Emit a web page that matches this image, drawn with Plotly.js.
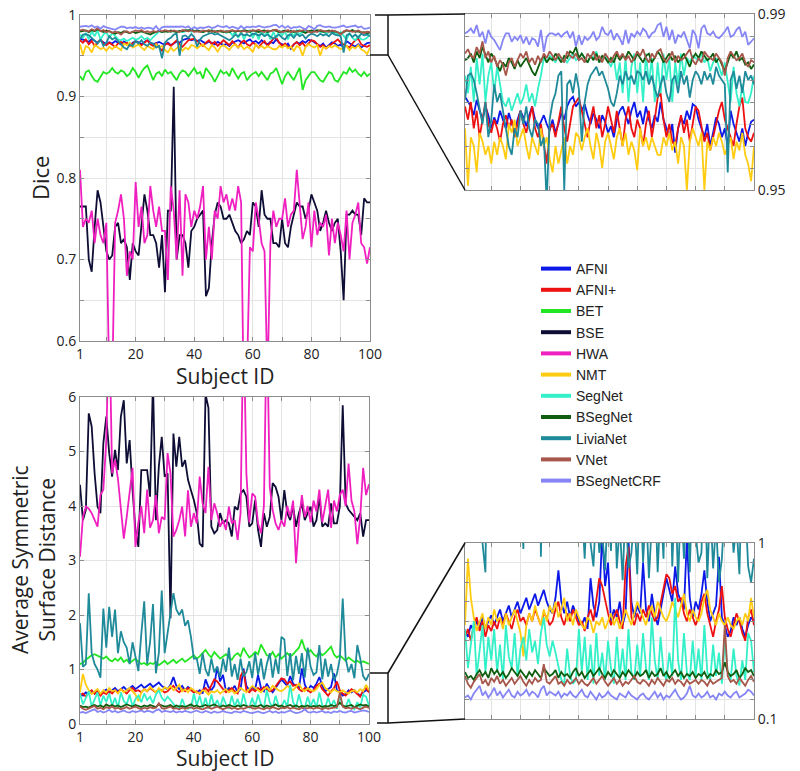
<!DOCTYPE html>
<html>
<head>
<meta charset="utf-8">
<script src="https://cdn.plot.ly/plotly-3.0.1.min.js"></script>
<style>html,body{margin:0;padding:0;background:#fff;}#chart{width:800px;height:771px;}</style>
</head>
<body>
<div id="chart"></div>
<script>
// ---------- DATA ----------
const subjects = [1,2,3,4,5,6,7,8,9,10,11,12,13,14,15,16,17,18,19,20,21,22,23,24,25,26,27,28,29,30,31,32,33,34,35,36,37,38,39,40,41,42,43,44,45,46,47,48,49,50,51,52,53,54,55,56,57,58,59,60,61,62,63,64,65,66,67,68,69,70,71,72,73,74,75,76,77,78,79,80,81,82,83,84,85,86,87,88,89,90,91,92,93,94,95,96,97,98,99,100];

const methods = ["AFNI","AFNI+","BET","BSE","HWA","NMT","SegNet","BSegNet","LiviaNet","VNet","BSegNetCRF"];

const xTickVals = [1,10,20,30,40,50,60,70,80,90,100];
const xTickText = ["1","","20","","40","","60","","80","","100"];
const diceTickVals = [0.6,0.65,0.7,0.75,0.8,0.85,0.9,0.95,1];
const diceTickText = ["0.6","","0.7","","0.8","","0.9","","1"];
const diceZoomTickVals = [0.95,0.955,0.96,0.965,0.97,0.975,0.98,0.985,0.99];
const diceZoomTickText = ["0.95","","","","","","","","0.99"];
const assdTickVals = [0,1,2,3,4,5,6];
const assdTickText = ["0","1","2","3","4","5","6"];
const assdZoomTickVals = [0.1,0.2,0.3,0.4,0.5,0.6,0.7,0.8,0.9,1];
const assdZoomTickText = ["0.1","","","","","","","","","1"];

// Dice per subject
const diceAFNI = [0.9712,0.9700,0.9690,0.9670,0.9705,0.9680,0.9660,0.9690,0.9670,0.9640,
0.9665,0.9650,0.9680,0.9660,0.9640,0.9675,0.9650,0.9630,0.9660,0.9680,
0.9665,0.9645,0.9670,0.9690,0.9660,0.9640,0.9655,0.9670,0.9650,0.9635,
0.9660,0.9630,0.9650,0.9675,0.9660,0.9690,0.9705,0.9712,0.9690,0.9700,
0.9680,0.9695,0.9670,0.9650,0.9675,0.9660,0.9640,0.9670,0.9655,0.9630,
0.9645,0.9620,0.9660,0.9680,0.9690,0.9670,0.9650,0.9680,0.9700,0.9665,
0.9680,0.9650,0.9690,0.9660,0.9640,0.9670,0.9655,0.9700,0.9660,0.9640,
0.9620,0.9650,0.9585,0.9640,0.9665,0.9650,0.9680,0.9660,0.9695,0.9690,
0.9660,0.9640,0.9620,0.9650,0.9600,0.9630,0.9665,0.9650,0.9620,0.9640,
0.9600,0.9680,0.9650,0.9630,0.9610,0.9640,0.9600,0.9630,0.9655,0.9660];
const diceAFNIplus = [0.9690,0.9660,0.9700,0.9640,0.9680,0.9620,0.9660,0.9700,0.9650,0.9630,
0.9660,0.9640,0.9610,0.9650,0.9670,0.9640,0.9660,0.9620,0.9650,0.9680,
0.9650,0.9630,0.9660,0.9690,0.9640,0.9620,0.9650,0.9600,0.9560,0.9640,
0.9650,0.9620,0.9660,0.9690,0.9640,0.9610,0.9650,0.9690,0.9700,0.9710,
0.9680,0.9650,0.9620,0.9660,0.9690,0.9640,0.9670,0.9620,0.9650,0.9690,
0.9660,0.9630,0.9680,0.9640,0.9600,0.9660,0.9690,0.9640,0.9620,0.9660,
0.9640,0.9600,0.9650,0.9680,0.9620,0.9660,0.9710,0.9720,0.9660,0.9620,
0.9650,0.9610,0.9600,0.9640,0.9670,0.9630,0.9660,0.9610,0.9650,0.9690,
0.9680,0.9640,0.9610,0.9630,0.9590,0.9620,0.9650,0.9680,0.9700,0.9660,
0.9640,0.9620,0.9600,0.9650,0.9690,0.9710,0.9640,0.9620,0.9610,0.9630];
const diceBET = [0.925,0.920,0.930,0.932,0.925,0.920,0.918,0.925,0.930,0.928,
0.930,0.935,0.930,0.928,0.932,0.930,0.925,0.928,0.935,0.930,
0.923,0.930,0.935,0.938,0.930,0.920,0.928,0.930,0.925,0.933,
0.928,0.930,0.925,0.920,0.928,0.932,0.930,0.925,0.930,0.935,
0.928,0.930,0.922,0.935,0.930,0.925,0.918,0.925,0.932,0.928,
0.930,0.925,0.935,0.928,0.922,0.928,0.930,0.920,0.925,0.928,
0.930,0.925,0.930,0.925,0.920,0.928,0.930,0.935,0.925,0.915,
0.925,0.930,0.925,0.920,0.928,0.935,0.908,0.920,0.925,0.930,
0.930,0.925,0.920,0.918,0.925,0.930,0.928,0.920,0.918,0.925,
0.930,0.928,0.935,0.930,0.933,0.928,0.925,0.930,0.925,0.928];
const diceBSE = [0.765,0.765,0.765,0.700,0.685,0.740,0.785,0.770,0.740,0.710,
0.700,0.705,0.740,0.745,0.720,0.725,0.715,0.675,0.720,0.710,
0.705,0.740,0.780,0.760,0.730,0.730,0.720,0.690,0.730,0.660,
0.760,0.760,0.912,0.700,0.730,0.730,0.720,0.690,0.735,0.740,
0.750,0.755,0.760,0.655,0.665,0.720,0.755,0.770,0.765,0.750,
0.750,0.755,0.745,0.735,0.730,0.720,0.725,0.735,0.730,0.770,
0.765,0.740,0.785,0.755,0.750,0.750,0.720,0.720,0.715,0.750,
0.720,0.715,0.740,0.755,0.770,0.765,0.765,0.750,0.760,0.780,
0.770,0.760,0.735,0.745,0.760,0.745,0.735,0.745,0.750,0.710,
0.650,0.755,0.755,0.760,0.755,0.755,0.730,0.775,0.770,0.770];
const diceHWA = [0.810,0.740,0.750,0.745,0.760,0.720,0.750,0.730,0.720,0.745,
0.550,0.550,0.745,0.760,0.780,0.750,0.680,0.710,0.700,0.795,
0.740,0.765,0.720,0.730,0.790,0.760,0.740,0.765,0.735,0.735,
0.675,0.790,0.760,0.700,0.785,0.680,0.780,0.770,0.740,0.760,
0.750,0.765,0.790,0.700,0.740,0.700,0.760,0.750,0.790,0.770,
0.780,0.760,0.775,0.760,0.790,0.770,0.500,0.560,0.715,0.710,
0.770,0.750,0.720,0.710,0.550,0.720,0.760,0.740,0.750,0.750,
0.775,0.740,0.755,0.760,0.810,0.765,0.725,0.740,0.770,0.715,
0.760,0.730,0.745,0.740,0.755,0.705,0.750,0.720,0.745,0.730,
0.710,0.760,0.700,0.745,0.755,0.770,0.720,0.715,0.695,0.715];
const diceNMT = [0.9640,0.9510,0.9620,0.9600,0.9540,0.9630,0.9610,0.9580,0.9600,0.9560,
0.9610,0.9580,0.9620,0.9600,0.9570,0.9650,0.9630,0.9660,0.9600,0.9620,
0.9640,0.9600,0.9570,0.9620,0.9600,0.9580,0.9640,0.9600,0.9620,0.9570,
0.9540,0.9600,0.9560,0.9590,0.9620,0.9560,0.9600,0.9580,0.9630,0.9620,
0.9590,0.9620,0.9640,0.9600,0.9570,0.9630,0.9600,0.9550,0.9610,0.9630,
0.9600,0.9570,0.9620,0.9640,0.9600,0.9630,0.9580,0.9610,0.9590,0.9545,
0.9640,0.9600,0.9620,0.9590,0.9620,0.9600,0.9580,0.9580,0.9620,0.9600,
0.9630,0.9590,0.9610,0.9560,0.9620,0.9600,0.9500,0.9610,0.9640,0.9620,
0.9600,0.9630,0.9500,0.9610,0.9590,0.9620,0.9600,0.9630,0.9610,0.9580,
0.9600,0.9620,0.9570,0.9610,0.9590,0.9630,0.9580,0.9560,0.9520,0.9600];
const diceSegNet = [0.9760,0.9720,0.9780,0.9700,0.9800,0.9740,0.9810,0.9700,0.9760,0.9790,
0.9720,0.9780,0.9740,0.9700,0.9690,0.9710,0.9680,0.9700,0.9720,0.9695,
0.9710,0.9740,0.9700,0.9720,0.9690,0.9730,0.9760,0.9800,0.9790,0.9805,
0.9800,0.9790,0.9805,0.9795,0.9800,0.9790,0.9800,0.9810,0.9795,0.9800,
0.9810,0.9800,0.9790,0.9805,0.9800,0.9815,0.9790,0.9800,0.9805,0.9795,
0.9780,0.9800,0.9750,0.9790,0.9720,0.9800,0.9700,0.9780,0.9810,0.9720,
0.9790,0.9700,0.9810,0.9740,0.9800,0.9700,0.9790,0.9720,0.9810,0.9750,
0.9800,0.9700,0.9790,0.9740,0.9810,0.9760,0.9800,0.9790,0.9805,0.9800,
0.9795,0.9810,0.9790,0.9800,0.9770,0.9790,0.9800,0.9780,0.9760,0.9790,
0.9740,0.9700,0.9780,0.9720,0.9690,0.9740,0.9700,0.9698,0.9720,0.9760];
const diceBSegNet = [0.9795,0.9800,0.9810,0.9790,0.9815,0.9800,0.9825,0.9805,0.9790,0.9810,
0.9800,0.9785,0.9770,0.9790,0.9780,0.9800,0.9790,0.9775,0.9795,0.9780,
0.9790,0.9800,0.9785,0.9770,0.9760,0.9780,0.9795,0.9805,0.9790,0.9800,
0.9795,0.9810,0.9800,0.9790,0.9805,0.9800,0.9815,0.9810,0.9825,0.9800,
0.9810,0.9800,0.9790,0.9805,0.9795,0.9810,0.9790,0.9805,0.9800,0.9790,
0.9800,0.9790,0.9810,0.9795,0.9805,0.9800,0.9815,0.9805,0.9795,0.9810,
0.9800,0.9790,0.9805,0.9810,0.9790,0.9800,0.9815,0.9805,0.9790,0.9800,
0.9810,0.9795,0.9805,0.9790,0.9800,0.9810,0.9795,0.9780,0.9800,0.9810,
0.9800,0.9815,0.9805,0.9795,0.9800,0.9810,0.9790,0.9800,0.9785,0.9770,
0.9790,0.9810,0.9800,0.9815,0.9795,0.9800,0.9785,0.9790,0.9775,0.9785];
const diceLiviaNet = [0.9705,0.9760,0.9765,0.9750,0.9720,0.9680,0.9650,0.9700,0.9620,0.9660,
0.9740,0.9700,0.9720,0.9680,0.9640,0.9600,0.9580,0.9640,0.9620,0.9680,
0.9650,0.9690,0.9640,0.9620,0.9660,0.9650,0.9600,0.9620,0.9470,0.9660,
0.9700,0.9720,0.9760,0.9770,0.9500,0.9740,0.9750,0.9720,0.9765,0.9730,
0.9610,0.9700,0.9740,0.9760,0.9770,0.9780,0.9760,0.9770,0.9750,0.9730,
0.9700,0.9690,0.9720,0.9760,0.9740,0.9770,0.9750,0.9760,0.9740,0.9770,
0.9765,0.9750,0.9770,0.9740,0.9760,0.9730,0.9710,0.9740,0.9760,0.9720,
0.9700,0.9750,0.9760,0.9720,0.9770,0.9740,0.9760,0.9710,0.9750,0.9770,
0.9760,0.9740,0.9770,0.9750,0.9765,0.9740,0.9780,0.9760,0.9750,0.9740,
0.9540,0.9750,0.9770,0.9730,0.9760,0.9720,0.9770,0.9750,0.9760,0.9740];
const diceVNet = [0.9810,0.9820,0.9805,0.9800,0.9825,0.9810,0.9838,0.9800,0.9815,0.9790,
0.9805,0.9780,0.9795,0.9785,0.9760,0.9790,0.9800,0.9780,0.9795,0.9810,
0.9800,0.9815,0.9790,0.9800,0.9785,0.9805,0.9790,0.9810,0.9800,0.9815,
0.9805,0.9795,0.9810,0.9800,0.9790,0.9815,0.9805,0.9800,0.9810,0.9795,
0.9800,0.9790,0.9810,0.9800,0.9815,0.9795,0.9805,0.9790,0.9810,0.9800,
0.9790,0.9805,0.9815,0.9800,0.9810,0.9795,0.9805,0.9790,0.9800,0.9815,
0.9805,0.9820,0.9800,0.9790,0.9810,0.9800,0.9815,0.9820,0.9800,0.9790,
0.9800,0.9815,0.9790,0.9805,0.9795,0.9800,0.9810,0.9820,0.9795,0.9785,
0.9800,0.9790,0.9815,0.9805,0.9800,0.9795,0.9810,0.9800,0.9790,0.9760,
0.9800,0.9815,0.9805,0.9795,0.9800,0.9810,0.9790,0.9780,0.9795,0.9790];
const diceBSegNetCRF = [0.9856,0.9860,0.9867,0.9856,0.9875,0.9848,0.9860,0.9833,0.9864,0.9848,
0.9841,0.9830,0.9818,0.9841,0.9856,0.9856,0.9837,0.9848,0.9841,0.9852,
0.9833,0.9848,0.9830,0.9845,0.9841,0.9826,0.9864,0.9814,0.9848,0.9856,
0.9856,0.9852,0.9856,0.9848,0.9856,0.9860,0.9845,0.9860,0.9826,0.9852,
0.9830,0.9848,0.9841,0.9848,0.9860,0.9841,0.9848,0.9871,0.9856,0.9852,
0.9864,0.9841,0.9856,0.9845,0.9830,0.9864,0.9833,0.9856,0.9848,0.9860,
0.9852,0.9867,0.9860,0.9845,0.9856,0.9860,0.9875,0.9879,0.9848,0.9871,
0.9841,0.9864,0.9833,0.9852,0.9848,0.9860,0.9841,0.9822,0.9864,0.9852,
0.9822,0.9867,0.9875,0.9856,0.9852,0.9860,0.9848,0.9845,0.9852,0.9860,
0.9871,0.9848,0.9852,0.9864,0.9871,0.9848,0.9860,0.9830,0.9837,0.9845];

// Average symmetric surface distance per subject
const assdAFNI = [0.55,0.52,0.58,0.55,0.60,0.57,0.62,0.56,0.60,0.63,
0.58,0.62,0.66,0.60,0.64,0.68,0.62,0.66,0.70,0.64,
0.68,0.72,0.66,0.70,0.74,0.68,0.72,0.76,0.70,0.66,
0.64,0.72,0.86,0.70,0.64,0.70,0.62,0.68,0.64,0.60,
0.58,0.62,0.56,0.82,0.68,0.62,0.70,1.05,0.78,0.90,
0.60,0.66,0.62,0.70,0.58,0.64,1.02,0.70,0.62,0.68,
0.64,0.90,0.66,0.60,0.74,0.64,0.58,0.66,0.72,0.82,
0.76,0.70,0.88,0.74,0.70,0.66,1.02,0.72,0.62,0.70,
0.66,0.74,0.86,0.70,0.60,0.64,0.68,0.93,0.62,0.58,
0.52,0.55,0.62,0.58,0.62,0.56,0.52,0.58,0.62,0.60];
const assdAFNIplus = [0.52,0.56,0.50,0.58,0.62,0.55,0.60,0.52,0.58,0.55,
0.60,0.56,0.62,0.58,0.64,0.60,0.56,0.62,0.66,0.60,
0.62,0.58,0.64,0.60,0.66,0.62,0.58,0.64,0.62,0.58,
0.60,0.66,0.70,0.62,0.58,0.64,0.60,0.66,0.62,0.58,
0.60,0.55,0.62,0.66,0.60,0.72,0.82,0.78,0.70,0.64,
0.58,0.62,0.66,0.60,0.56,0.88,0.98,0.62,0.58,0.64,
0.60,0.66,0.62,0.68,0.64,0.60,0.62,0.70,0.76,0.84,
0.82,0.74,0.78,0.70,0.72,0.64,0.60,0.66,0.62,0.58,
0.62,0.70,0.74,0.64,0.58,0.52,0.60,0.66,0.78,0.62,
0.56,0.52,0.58,0.64,0.60,0.54,0.50,0.62,0.66,0.58];
const assdBET = [1.10,1.12,1.18,1.22,1.26,1.28,1.25,1.22,1.20,1.24,
1.18,1.15,1.20,1.16,1.22,1.14,1.18,1.12,1.16,1.20,
1.14,1.10,1.12,1.08,1.12,1.10,1.14,1.08,1.12,1.16,
1.10,1.14,1.18,1.12,1.16,1.20,1.14,1.18,1.22,1.26,
1.20,1.24,1.30,1.36,1.28,1.22,1.32,1.26,1.20,1.24,
1.28,1.22,1.18,1.26,1.30,1.24,1.40,1.30,1.22,1.26,
1.32,1.28,1.46,1.36,1.26,1.24,1.32,1.22,1.28,1.20,
1.26,1.30,1.24,1.28,1.34,1.40,1.55,1.38,1.30,1.36,
1.28,1.24,1.32,1.26,1.30,1.36,1.42,1.28,1.22,1.26,
1.20,1.16,1.22,1.18,1.14,1.16,1.12,1.15,1.12,1.10];
const assdBSE = [4.39,3.74,3.93,5.70,5.46,4.60,3.99,3.87,5.15,5.64,
4.97,4.54,5.03,4.66,5.64,5.94,4.78,5.21,4.29,3.56,
3.25,4.66,4.66,4.66,4.17,6.30,3.74,4.72,5.27,4.54,
4.60,1.94,5.33,4.72,5.27,4.72,4.84,4.48,4.29,4.11,
3.87,3.31,3.25,6.05,5.80,3.62,3.50,3.56,3.87,3.68,
3.74,3.68,3.44,3.99,3.93,4.23,4.29,4.17,3.62,3.68,
4.11,3.56,3.25,3.87,3.62,3.80,4.42,4.35,4.17,3.74,
4.29,3.87,3.74,3.99,3.62,3.87,4.05,3.74,3.87,3.99,
3.62,3.74,4.17,3.62,3.68,3.62,4.05,3.68,3.68,3.99,
5.85,4.05,3.93,3.87,3.80,3.74,3.87,3.44,3.74,3.74];
const assdHWA = [3.07,3.80,3.99,3.95,3.87,3.74,3.62,4.20,4.30,5.20,
7.50,4.60,4.85,4.50,4.00,3.40,3.80,4.20,4.70,3.25,
3.70,4.00,3.50,4.30,3.60,3.74,4.20,3.50,3.80,3.75,
4.97,4.60,3.44,3.56,3.74,3.99,3.44,4.29,3.62,3.87,
3.68,4.54,4.05,3.87,4.72,3.74,4.05,3.87,3.62,3.74,
3.56,3.99,3.68,3.74,3.38,3.87,7.50,4.60,3.70,4.23,
4.17,3.68,3.50,4.00,7.50,4.35,3.93,3.68,3.56,3.74,
3.62,4.00,3.80,4.10,2.95,3.70,4.20,3.80,4.00,3.70,
4.10,3.90,4.30,3.70,4.00,4.30,3.60,4.10,3.90,4.20,
4.30,4.00,4.78,4.10,3.90,3.30,3.80,4.70,4.20,4.40];
const assdNMT = [0.58,0.92,0.72,0.62,0.55,0.60,0.64,0.56,0.62,0.58,
0.66,0.60,0.62,0.56,0.64,0.58,0.62,0.66,0.60,0.54,
0.42,0.58,0.64,0.60,0.68,0.62,0.58,0.66,0.60,0.68,
0.64,0.70,0.62,0.66,0.72,0.60,0.64,0.58,0.66,0.62,
0.58,0.56,0.62,0.60,0.54,0.60,0.58,0.62,0.56,0.60,
0.64,0.58,0.62,0.56,0.60,0.66,0.62,0.58,0.64,0.70,
0.66,0.62,0.58,0.64,0.68,0.62,0.70,0.66,0.62,0.60,
0.64,0.70,0.66,0.62,0.68,0.74,0.64,0.60,0.66,0.62,
0.60,0.64,0.72,0.76,0.66,0.62,0.58,0.64,0.60,0.58,
0.62,0.58,0.56,0.60,0.62,0.58,0.64,0.60,0.72,0.62];
const assdSegNet = [0.56,0.36,0.48,0.60,0.32,0.44,0.58,0.34,0.52,0.40,
0.56,0.34,0.48,0.30,0.58,0.42,0.36,0.54,0.32,0.46,
0.52,0.40,0.56,0.44,0.50,0.38,0.54,0.62,0.48,0.42,
0.50,0.44,0.36,0.30,0.28,0.46,0.32,0.28,0.30,0.56,
0.34,0.52,0.30,0.48,0.28,0.54,0.32,0.44,0.30,0.50,
0.36,0.28,0.52,0.32,0.46,0.30,0.56,0.34,0.30,0.48,
0.32,0.54,0.36,0.30,0.62,0.40,0.30,0.52,0.34,0.30,
0.44,0.32,0.72,0.40,0.30,0.54,0.34,0.30,0.50,0.32,
0.46,0.30,0.58,0.34,0.30,0.48,0.32,0.44,0.28,0.50,
0.34,0.30,0.46,0.32,0.27,0.40,0.30,0.54,0.50,0.34];
const assdBSegNet = [0.34,0.31,0.32,0.30,0.33,0.35,0.32,0.34,0.31,0.36,
0.33,0.35,0.32,0.34,0.31,0.33,0.36,0.34,0.32,0.35,
0.33,0.31,0.34,0.32,0.35,0.33,0.31,0.36,0.34,0.32,
0.33,0.35,0.31,0.34,0.32,0.33,0.31,0.34,0.36,0.32,
0.34,0.31,0.33,0.35,0.32,0.34,0.36,0.33,0.31,0.34,
0.32,0.35,0.33,0.31,0.34,0.32,0.35,0.33,0.31,0.34,
0.32,0.33,0.35,0.31,0.34,0.32,0.33,0.36,0.32,0.34,
0.31,0.33,0.35,0.32,0.34,0.31,0.33,0.32,0.34,0.31,
0.33,0.32,0.34,0.31,0.33,0.32,0.35,0.33,0.34,0.39,
0.34,0.32,0.33,0.35,0.31,0.33,0.36,0.34,0.35,0.32];
const assdLiviaNet = [1.85,1.05,1.10,2.40,1.30,1.10,1.00,0.85,2.12,1.40,
2.15,1.60,2.10,1.30,1.70,1.50,1.40,1.10,1.50,1.20,
0.97,1.65,2.25,1.10,1.50,2.20,0.93,1.30,2.45,1.30,
1.70,2.00,2.40,2.10,2.00,2.10,1.80,1.90,1.60,1.20,
1.20,0.92,1.30,1.00,0.88,1.20,0.95,1.05,0.86,1.20,
0.96,1.40,0.87,1.10,0.81,1.20,0.87,0.95,1.15,0.84,
1.30,0.90,1.20,0.82,1.10,1.30,0.85,1.20,0.92,1.60,
1.55,0.88,1.30,0.80,1.25,0.92,1.30,0.85,1.40,1.05,
0.90,0.95,1.45,0.82,1.20,0.87,1.10,0.80,0.92,1.20,
2.30,1.20,0.95,1.10,0.84,1.45,1.20,0.88,0.80,0.92];
const assdVNet = [0.32,0.28,0.26,0.29,0.31,0.33,0.28,0.30,0.27,0.31,
0.29,0.32,0.28,0.30,0.27,0.29,0.31,0.28,0.30,0.32,
0.29,0.27,0.30,0.28,0.31,0.29,0.30,0.38,0.29,0.28,
0.30,0.32,0.28,0.29,0.27,0.30,0.28,0.29,0.31,0.28,
0.30,0.28,0.27,0.29,0.31,0.28,0.30,0.32,0.29,0.27,
0.29,0.31,0.28,0.30,0.27,0.29,0.28,0.30,0.32,0.29,
0.28,0.30,0.29,0.27,0.30,0.28,0.31,0.29,0.27,0.30,
0.29,0.31,0.28,0.30,0.29,0.27,0.30,0.28,0.29,0.30,
0.28,0.30,0.29,0.27,0.30,0.28,0.29,0.30,0.31,0.58,
0.32,0.29,0.30,0.28,0.31,0.29,0.27,0.30,0.32,0.29];
const assdBSegNetCRF = [0.21,0.22,0.20,0.23,0.25,0.27,0.22,0.24,0.21,0.23,
0.26,0.22,0.24,0.21,0.23,0.25,0.22,0.21,0.24,0.22,
0.23,0.25,0.22,0.24,0.23,0.21,0.25,0.27,0.22,0.24,
0.23,0.22,0.24,0.21,0.23,0.22,0.24,0.22,0.21,0.23,
0.25,0.22,0.21,0.24,0.22,0.20,0.23,0.21,0.22,0.24,
0.22,0.21,0.20,0.23,0.22,0.21,0.24,0.22,0.21,0.20,
0.22,0.23,0.21,0.20,0.22,0.24,0.21,0.23,0.20,0.22,
0.21,0.23,0.25,0.22,0.20,0.21,0.23,0.27,0.22,0.21,
0.23,0.21,0.22,0.24,0.21,0.22,0.20,0.23,0.22,0.24,
0.22,0.21,0.23,0.24,0.21,0.22,0.23,0.25,0.24,0.22];

// ---------- STYLE ----------
const colors = ["#0b18e8","#ee1111","#22e622","#0d0d35","#f020c0","#ffcc11","#33f0c8","#0f5e0f","#1f8a9a","#a6574a","#8585f5"];
const diceSeries = [diceAFNI,diceAFNIplus,diceBET,diceBSE,diceHWA,diceNMT,diceSegNet,diceBSegNet,diceLiviaNet,diceVNet,diceBSegNetCRF];
const assdSeries = [assdAFNI,assdAFNIplus,assdBET,assdBSE,assdHWA,assdNMT,assdSegNet,assdBSegNet,assdLiviaNet,assdVNet,assdBSegNetCRF];

const W = 800, H = 771;
const px = v => v / W;
const py = v => 1 - v / H;

const traces = [];
const panels = [
  {xa:'x', ya:'y', data: diceSeries},
  {xa:'x2', ya:'y2', data: diceSeries},
  {xa:'x3', ya:'y3', data: assdSeries},
  {xa:'x4', ya:'y4', data: assdSeries}
];
panels.forEach(p => {
  methods.forEach((m, i) => {
    traces.push({
      x: subjects, y: p.data[i], type: 'scatter', mode: 'lines',
      name: m, xaxis: p.xa, yaxis: p.ya, showlegend: false,
      line: {color: colors[i], width: 1.8}, hoverinfo: 'skip'
    });
  });
});
// legend entries (thicker swatches)
methods.forEach((m, i) => {
  traces.push({x:[null], y:[null], type:'scatter', mode:'lines', name:m,
    xaxis:'x', yaxis:'y', showlegend:true, line:{color:colors[i], width:4}});
});

const tickFont = {family: 'Open Sans, sans-serif', size: 14, color: '#222'};
const frame = {showline:true, linecolor:'#8c8c8c', linewidth:1, mirror:'allticks',
  ticks:'inside', ticklen:4, tickcolor:'#8c8c8c', gridcolor:'#e4e4e4', gridwidth:1, zeroline:false};

function xaxisMain(dom){
  return Object.assign({}, frame, {domain:dom, range:[1,100], tickmode:'array',
    tickvals:xTickVals, ticktext:xTickText, tickfont:tickFont});
}
function xaxisZoom(dom, anchor){
  return Object.assign({}, frame, {domain:dom, range:[1,100], tickmode:'array',
    tickvals:xTickVals, ticktext:xTickVals.map(()=>''), anchor:anchor, showticklabels:false});
}

const layout = {
  width: W, height: H,
  margin: {l:0, r:0, t:0, b:0},
  paper_bgcolor: '#fff', plot_bgcolor: '#fff',
  font: {family:'Open Sans, sans-serif', color:'#222'},
  showlegend: true,
  legend: {x: px(536), y: py(253), xanchor:'left', yanchor:'top',
    font:{family:'Liberation Sans, Arial, sans-serif', size:14, color:'#222'},
    bgcolor:'rgba(0,0,0,0)', borderwidth:0, tracegroupgap:0},
  xaxis: Object.assign(xaxisMain([px(80), px(370)]), {anchor:'y'}),
  yaxis: Object.assign({}, frame, {domain:[py(341), py(15)], range:[0.6,1], tickmode:'array',
    tickvals:diceTickVals, ticktext:diceTickText, tickfont:tickFont, anchor:'x'}),
  xaxis2: xaxisZoom([px(465), px(754)], 'y2'),
  yaxis2: Object.assign({}, frame, {domain:[py(190), py(14)], range:[0.95,0.99], tickmode:'array',
    tickvals:diceZoomTickVals, ticktext:diceZoomTickText, tickfont:tickFont, side:'right', anchor:'x2'}),
  xaxis3: Object.assign(xaxisMain([px(80), px(369)]), {anchor:'y3'}),
  yaxis3: Object.assign({}, frame, {domain:[py(724), py(397)], range:[0,6], tickmode:'array',
    tickvals:assdTickVals, ticktext:assdTickText, tickfont:tickFont, anchor:'x3'}),
  xaxis4: xaxisZoom([px(465), px(754)], 'y4'),
  yaxis4: Object.assign({}, frame, {domain:[py(719), py(543)], range:[0.1,1], tickmode:'array',
    tickvals:assdZoomTickVals, ticktext:assdZoomTickText, tickfont:tickFont, side:'right', anchor:'x4'}),
  annotations: [
    {text:'Dice', x:px(40), y:py(178), xref:'paper', yref:'paper', showarrow:false, textangle:-90,
      font:{size:22, color:'#222'}, xanchor:'center', yanchor:'middle'},
    {text:'Average Symmetric<br>Surface Distance', x:px(33), y:py(560), xref:'paper', yref:'paper',
      showarrow:false, textangle:-90, font:{size:21, color:'#222'}, xanchor:'center', yanchor:'middle'},
    {text:'Subject ID', x:px(225), y:py(376), xref:'paper', yref:'paper', showarrow:false,
      font:{size:21, color:'#222'}, xanchor:'center', yanchor:'middle'},
    {text:'Subject ID', x:px(225), y:py(758), xref:'paper', yref:'paper', showarrow:false,
      font:{size:21, color:'#222'}, xanchor:'center', yanchor:'middle'}
  ],
  shapes: [
    {type:'line', xref:'paper', yref:'paper', x0:px(375), y0:py(15), x1:px(388), y1:py(15), line:{color:'#111', width:1.5}},
    {type:'line', xref:'paper', yref:'paper', x0:px(388), y0:py(15), x1:px(388), y1:py(55), line:{color:'#111', width:1.5}},
    {type:'line', xref:'paper', yref:'paper', x0:px(370), y0:py(55), x1:px(388), y1:py(55), line:{color:'#111', width:1.5}},
    {type:'line', xref:'paper', yref:'paper', x0:px(388), y0:py(15), x1:px(465), y1:py(14), line:{color:'#111', width:1.5}},
    {type:'line', xref:'paper', yref:'paper', x0:px(388), y0:py(55), x1:px(465), y1:py(190), line:{color:'#111', width:1.5}},
    {type:'line', xref:'paper', yref:'paper', x0:px(370), y0:py(673), x1:px(388), y1:py(673), line:{color:'#111', width:1.5}},
    {type:'line', xref:'paper', yref:'paper', x0:px(388), y0:py(673), x1:px(388), y1:py(723), line:{color:'#111', width:1.5}},
    {type:'line', xref:'paper', yref:'paper', x0:px(377), y0:py(723), x1:px(388), y1:py(723), line:{color:'#111', width:1.5}},
    {type:'line', xref:'paper', yref:'paper', x0:px(388), y0:py(673), x1:px(465), y1:py(543), line:{color:'#111', width:1.5}},
    {type:'line', xref:'paper', yref:'paper', x0:px(388), y0:py(723), x1:px(465), y1:py(719), line:{color:'#111', width:1.5}}
  ]
};

Plotly.newPlot('chart', traces, layout, {displayModeBar:false, staticPlot:true});
</script>
</body>
</html>
